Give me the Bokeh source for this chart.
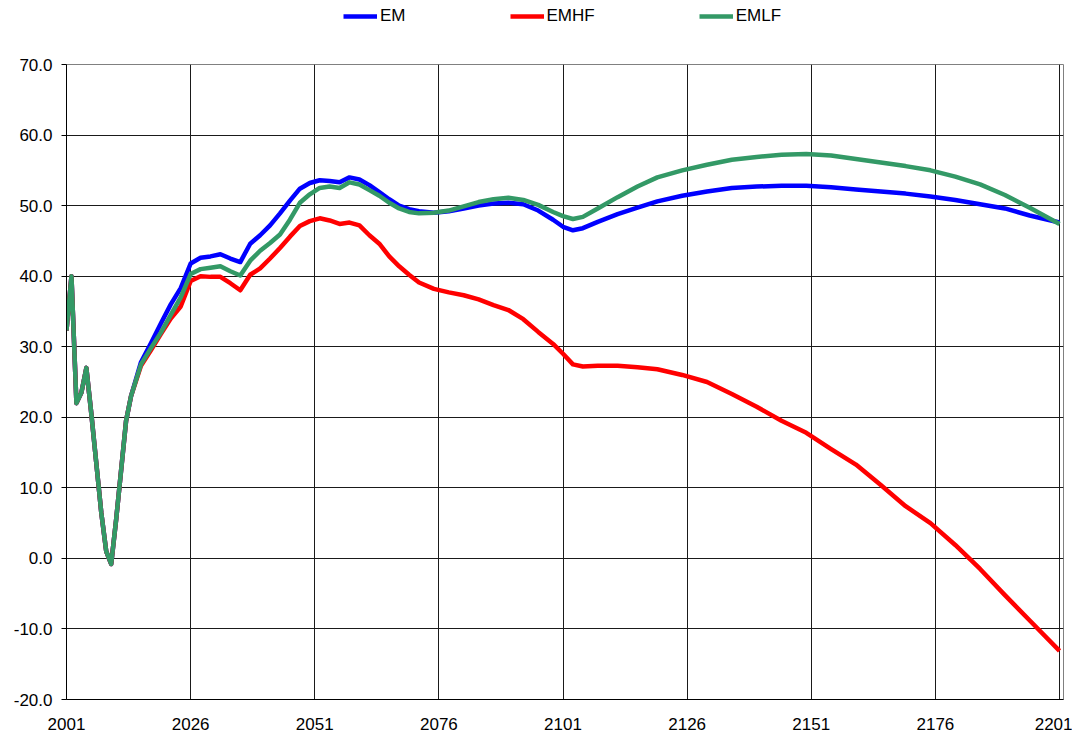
from bokeh.plotting import figure
from bokeh.layouts import column
from bokeh.models import Range1d, FixedTicker, NumeralTickFormatter, Legend, LegendItem
from bokeh.embed import file_html
from bokeh.resources import INLINE

years = [2001, 2002, 2003, 2004, 2005, 2006, 2007, 2008, 2009, 2010, 2011, 2012, 2013, 2014,
         2016, 2018, 2020, 2022, 2024, 2026, 2028, 2030, 2032, 2034, 2036, 2038, 2040, 2042,
         2044, 2046, 2048, 2050, 2052, 2054, 2056, 2058, 2060, 2062, 2064, 2066, 2068, 2070,
         2072, 2075, 2078, 2081, 2084, 2087, 2090, 2093, 2096, 2099, 2101, 2103, 2105, 2108,
         2112, 2116, 2120, 2125, 2130, 2135, 2140, 2145, 2150, 2155, 2160, 2165, 2170, 2175,
         2180, 2185, 2190, 2195, 2201]

early = [32.3, 40.0, 22.0, 23.5, 27.0, 20.5, 13.5, 6.5, 1.0, -0.8, 5.5, 12.5, 19.5, 23.0]

em = early + [27.8, 30.5, 33.3, 36.0, 38.3, 41.8, 42.6, 42.8, 43.1, 42.5, 42.0, 44.6, 45.8, 47.2,
              48.9, 50.7, 52.4, 53.2, 53.6, 53.5, 53.3, 54.0, 53.7, 52.9, 51.9, 50.9, 50.0, 49.5,
              49.2, 49.0, 49.2, 49.6, 50.0, 50.3, 50.4, 50.2, 49.3, 48.0, 47.0, 46.5, 46.8, 47.7,
              48.8, 49.7, 50.6, 51.4, 52.0, 52.5, 52.7, 52.8, 52.8, 52.6, 52.3, 52.0, 51.7, 51.3,
              50.8, 50.2, 49.6, 48.6, 47.6]

emhf = early + [27.3, 29.5, 31.8, 34.0, 35.7, 39.3, 40.0, 39.9, 39.9, 39.0, 38.0, 40.2, 41.1, 42.5,
                44.0, 45.6, 47.1, 47.8, 48.2, 47.9, 47.4, 47.6, 47.2, 45.8, 44.6, 42.8, 41.4, 40.2,
                39.1, 38.2, 37.7, 37.3, 36.7, 35.9, 35.2, 33.9, 32.1, 30.4, 29.0, 27.5, 27.2, 27.3,
                27.3, 27.1, 26.8, 26.0, 25.0, 23.3, 21.5, 19.5, 17.8, 15.5, 13.3, 10.4, 7.4, 5.0,
                1.9, -1.5, -5.2, -8.8, -13.1]

emlf = early + [27.5, 29.8, 32.0, 34.5, 37.0, 40.3, 41.0, 41.2, 41.4, 40.7, 40.1, 42.2, 43.6, 44.7,
                45.9, 48.0, 50.4, 51.6, 52.5, 52.7, 52.5, 53.3, 53.0, 52.2, 51.4, 50.4, 49.6, 49.1,
                48.9, 49.0, 49.3, 49.9, 50.5, 50.9, 51.1, 50.8, 50.1, 49.1, 48.5, 48.1, 48.4, 49.6,
                51.2, 52.7, 54.0, 55.0, 55.8, 56.5, 56.9, 57.2, 57.3, 57.1, 56.6, 56.1, 55.6, 55.0,
                54.1, 53.0, 51.5, 49.7, 47.4]

series_names = ["EM", "EMHF", "EMLF"]
series_colors = ["#0000FF", "#FF0000", "#339966"]

x_ticks = [2001, 2026, 2051, 2076, 2101, 2126, 2151, 2176, 2201]
y_ticks = [-20, -10, 0, 10, 20, 30, 40, 50, 60, 70]

FONT = "Liberation Sans"
LEG_H = 30

# ---- legend strip (top) ----
lg = figure(width=1072, height=LEG_H, output_backend="svg", toolbar_location=None,
            x_axis_type=None, y_axis_type=None, x_range=Range1d(0, 1), y_range=Range1d(0, 1),
            min_border=0, title=None)
lg.outline_line_color = None
lg.grid.visible = False
# legend-only samples (drawn outside the visible range of this strip)
leg_renderers = [lg.line([5, 6], [5, 6], line_color=c, line_width=4.5) for c in series_colors]
legend = Legend(items=[LegendItem(label=n, renderers=[r]) for n, r in zip(series_names, leg_renderers)],
                orientation="horizontal", location=(277, 4),
                glyph_width=34, glyph_height=16, label_standoff=3, spacing=104,
                padding=0, margin=0, label_height=16,
                label_text_font=FONT, label_text_font_size="17px", label_text_color="black",
                border_line_color=None, background_fill_alpha=0)
lg.add_layout(legend, "center")

# ---- main chart ----
p = figure(width=1072, height=734 - LEG_H, output_backend="svg", toolbar_location=None,
           x_range=Range1d(2001, 2201.8), y_range=Range1d(-20, 70), title=None,
           min_border_left=66, min_border_right=9, min_border_top=64 - LEG_H, min_border_bottom=35)

p.background_fill_color = "white"
p.border_fill_color = "white"
p.outline_line_color = "#808080"
p.outline_line_width = 1

p.xaxis.ticker = FixedTicker(ticks=x_ticks)
p.yaxis.ticker = FixedTicker(ticks=y_ticks)
p.yaxis.formatter = NumeralTickFormatter(format="0.0")
for ax in (p.xaxis[0], p.yaxis[0]):
    ax.axis_line_color = "black"
    ax.axis_line_width = 1
    ax.major_label_text_font = FONT
    ax.major_label_text_font_size = "17px"
    ax.major_label_text_color = "black"
    ax.minor_tick_line_color = None
p.xaxis.major_tick_line_color = None
p.xaxis.major_tick_out = 0
p.xaxis.major_tick_in = 0
p.xaxis.major_label_standoff = 18
p.yaxis.major_tick_line_color = "black"
p.yaxis.major_tick_out = 5
p.yaxis.major_tick_in = 0
p.yaxis.major_label_standoff = 9

p.xgrid.grid_line_color = "#1a1a1a"
p.ygrid.grid_line_color = "#1a1a1a"
p.xgrid.grid_line_width = 1
p.ygrid.grid_line_width = 1

for vals, c in zip([em, emhf, emlf], series_colors):
    p.line(years, vals, line_color=c, line_width=4.5, line_join="round")

layout = column(lg, p, spacing=0)
open("out.html", "w").write(file_html(layout, INLINE))
